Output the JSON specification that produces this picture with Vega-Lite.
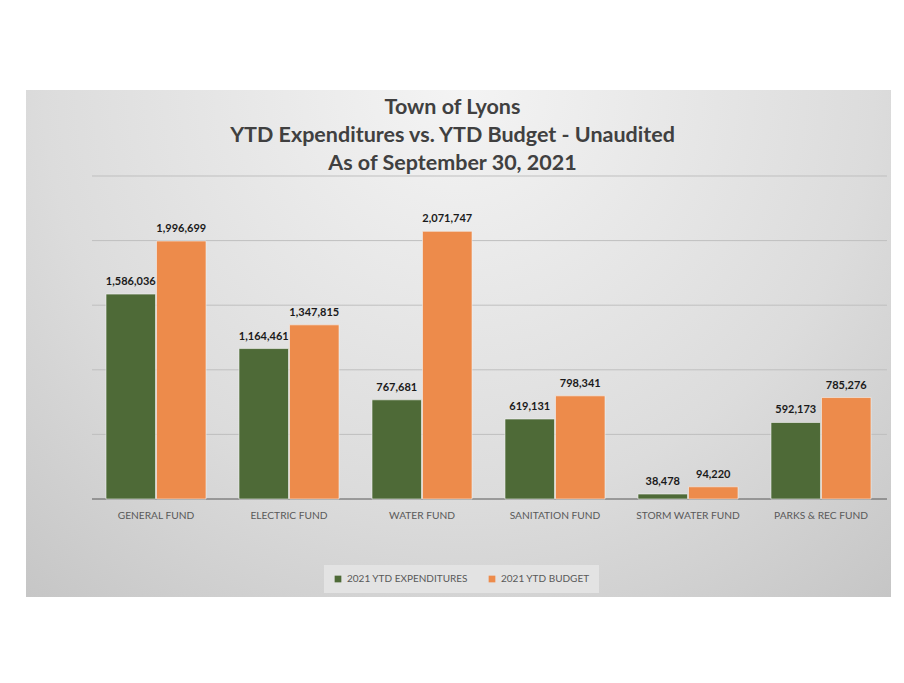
{
  "$schema": "https://vega.github.io/schema/vega-lite/v6.json",
  "width": 865,
  "height": 507,
  "autosize": {"type": "none"},
  "padding": {"left": 26, "top": 90, "right": 13, "bottom": 86},
  "background": "#ffffff",
  "config": {"view": {"stroke": null}, "font": "Lato"},
  "title": {
    "text": ["Town of Lyons", "YTD Expenditures vs. YTD Budget - Unaudited", "As of September 30, 2021"],
    "font": "Lato",
    "fontSize": 21.5,
    "fontWeight": "bold",
    "color": "#404040",
    "lineHeight": 28,
    "anchor": "middle",
    "frame": "group",
    "offset": -84,
    "dx": -6
  },
  "datasets": {
    "funds": [
      {"fund": "GENERAL FUND", "series": "2021 YTD EXPENDITURES", "value": 1586036},
      {"fund": "GENERAL FUND", "series": "2021 YTD BUDGET", "value": 1996699},
      {"fund": "ELECTRIC FUND", "series": "2021 YTD EXPENDITURES", "value": 1164461},
      {"fund": "ELECTRIC FUND", "series": "2021 YTD BUDGET", "value": 1347815},
      {"fund": "WATER FUND", "series": "2021 YTD EXPENDITURES", "value": 767681},
      {"fund": "WATER FUND", "series": "2021 YTD BUDGET", "value": 2071747},
      {"fund": "SANITATION FUND", "series": "2021 YTD EXPENDITURES", "value": 619131},
      {"fund": "SANITATION FUND", "series": "2021 YTD BUDGET", "value": 798341},
      {"fund": "STORM WATER FUND", "series": "2021 YTD EXPENDITURES", "value": 38478},
      {"fund": "STORM WATER FUND", "series": "2021 YTD BUDGET", "value": 94220},
      {"fund": "PARKS & REC FUND", "series": "2021 YTD EXPENDITURES", "value": 592173},
      {"fund": "PARKS & REC FUND", "series": "2021 YTD BUDGET", "value": 785276}
    ],
    "grid": [
      {"v": 0}, {"v": 500000}, {"v": 1000000}, {"v": 1500000}, {"v": 2000000}, {"v": 2500000}
    ]
  },
  "layer": [
    {
      "data": {"values": [{}]},
      "mark": {
        "type": "rect",
        "color": {
          "gradient": "radial",
          "x1": 0.5, "y1": 0.2, "r1": 0,
          "x2": 0.5, "y2": 0.2, "r2": 0.8,
          "stops": [
            {"offset": 0, "color": "#f4f4f4"},
            {"offset": 0.6, "color": "#dcdcdc"},
            {"offset": 1, "color": "#c4c4c4"}
          ]
        }
      },
      "encoding": {}
    },
    {
      "data": {"name": "grid"},
      "mark": {"type": "rule", "strokeWidth": 1},
      "encoding": {
        "x": {"datum": "GENERAL FUND", "type": "nominal", "bandPosition": -0.14},
        "x2": {"datum": "PARKS & REC FUND", "bandPosition": 1.16},
        "y": {"field": "v", "type": "quantitative", "axis": null,
              "scale": {"domain": [-758514, 3165635], "nice": false, "zero": false}},
        "color": {"condition": {"test": "datum.v === 0", "value": "#595959"}, "value": "#bfbfbf"}
      }
    },
    {
      "data": {"name": "funds"},
      "encoding": {
        "x": {
          "field": "fund", "type": "nominal",
          "sort": ["GENERAL FUND", "ELECTRIC FUND", "WATER FUND", "SANITATION FUND", "STORM WATER FUND", "PARKS & REC FUND"],
          "scale": {"paddingInner": 0.248, "paddingOuter": 0.376, "align": 0.8},
          "axis": {"title": null, "domain": false, "ticks": false, "offset": -98, "labelPadding": 16, "zindex": 1,
                   "bandPosition": 0.5, "labelAlign": "center", "labelBaseline": "middle",
                   "labelFont": "Lato", "labelFontSize": 10.2, "labelColor": "#595959", "labelAngle": 0}
        },
        "xOffset": {
          "field": "series", "type": "nominal",
          "sort": ["2021 YTD EXPENDITURES", "2021 YTD BUDGET"],
          "scale": {"paddingInner": 0.02}
        },
        "y": {"field": "value", "type": "quantitative", "axis": null,
              "scale": {"domain": [-758514, 3165635], "nice": false, "zero": false}}
      },
      "layer": [
        {
          "mark": {"type": "bar", "stroke": "#f4f4f4", "strokeWidth": 0.6},
          "encoding": {
            "y2": {"datum": 0},
            "color": {
              "field": "series", "type": "nominal",
              "sort": ["2021 YTD EXPENDITURES", "2021 YTD BUDGET"],
              "scale": {"domain": ["2021 YTD EXPENDITURES", "2021 YTD BUDGET"], "range": ["#4e6a37", "#ed8b4b"]},
              "legend": {
                "title": null, "orient": "none", "direction": "horizontal",
                "legendX": 298, "legendY": 475,
                "fillColor": "#e3e3e3", "padding": 9,
                "symbolType": "square", "symbolSize": 45, "symbolStrokeWidth": 0,
                "labelFont": "Lato", "labelFontSize": 10, "labelColor": "#595959",
                "columnPadding": 19, "labelOffset": 4
              }
            }
          }
        },
        {
          "mark": {"type": "text", "font": "Lato", "fontSize": 11, "fontWeight": "bold", "color": "#1a1a1a", "dy": -9, "baseline": "alphabetic"},
          "encoding": {
            "text": {"field": "value", "type": "quantitative", "format": ","}
          }
        }
      ]
    }
  ]
}
